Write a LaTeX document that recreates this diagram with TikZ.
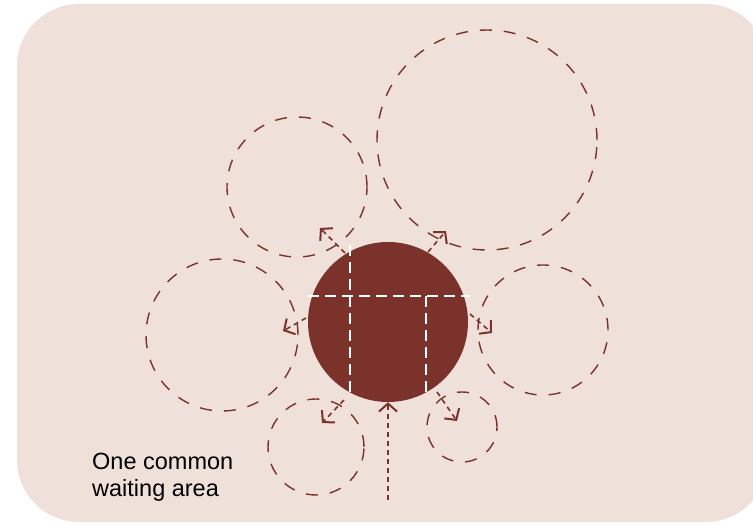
\documentclass[tikz,border=0pt]{standalone}
\usepackage{fontspec}
\setmainfont{Liberation Sans}
\usetikzlibrary{arrows.meta}
\definecolor{bgpink}{RGB}{239,224,218}
\definecolor{darkred}{RGB}{122,50,42}
\tikzset{
  x=1pt, y=1pt,
  zone/.style={circle, draw=darkred, line width=1.4pt, dash pattern=on 12pt off 12pt, inner sep=0pt},
  core/.style={circle, fill=darkred, inner sep=0pt, minimum size=160pt},
  grid/.style={draw=white, line width=1.8pt, dash pattern=on 11pt off 6pt},
  spread/.style={draw=darkred, line width=1.6pt, dash pattern=on 5pt off 4pt,
    -{Straight Barb[length=8pt, width=18pt, line width=2pt]}},
  entry/.style={draw=darkred, line width=2.4pt, dash pattern=on 5pt off 4pt,
    -{Straight Barb[length=8pt, width=18pt, line width=2pt]}},
  label/.style={font=\fontsize{23.5}{27.4}\selectfont, align=left, inner sep=0pt, anchor=base west}
}
\begin{document}
\begin{tikzpicture}
\useasboundingbox (0,0) rectangle (753,525);
\clip (0,0) rectangle (753,525);
\fill[bgpink, rounded corners=62pt] (17,3) rectangle (768,521);

% surrounding zones
\node[zone, minimum size=220pt] (big) at (487,385) {};
\node[zone, minimum size=140pt] (tl) at (297,338) {};
\node[zone, minimum size=152pt] (lf) at (222,190) {};
\node[zone, minimum size=130pt] (rt) at (543,195) {};
\node[zone, minimum size=96pt] (bl) at (316,78) {};
\node[zone, minimum size=70pt] (br) at (462,98) {};

% central area
\node[core] (ctr) at (388,203) {};

% white dashed grid
\coordinate (hA) at (308,229);
\coordinate (hB) at (470,229);
\coordinate (v1a) at (350,280);
\coordinate (v1b) at (350,132);
\coordinate (v2a) at (426,229);
\coordinate (v2b) at (426,130);
\draw[grid] (hA) -- (hB);
\draw[grid] (v1a) -- (v1b);
\draw[grid] (v2a) -- (v2b);

% arrows
\coordinate (s1) at (345,272); \coordinate (e1) at (320,297);
\coordinate (s2) at (428,273); \coordinate (e2) at (446,294);
\coordinate (s3) at (306,207); \coordinate (e3) at (283,194);
\coordinate (s4) at (470,211); \coordinate (e4) at (492,192);
\coordinate (s5) at (344,125); \coordinate (e5) at (322,102);
\coordinate (s6) at (437,133); \coordinate (e6) at (457,104);
\coordinate (s7) at (388,25);
\draw[spread] (s1) -- (e1);
\draw[spread] (s2) -- (e2);
\draw[spread] (s3) -- (e3);
\draw[spread] (s4) -- (e4);
\draw[spread] (s5) -- (e5);
\draw[spread] (s6) -- (e6);
\draw[entry] (s7) -- (ctr.south);

\node[label] (txt) at (92,28) {One common\\waiting area};
\end{tikzpicture}
\end{document}
